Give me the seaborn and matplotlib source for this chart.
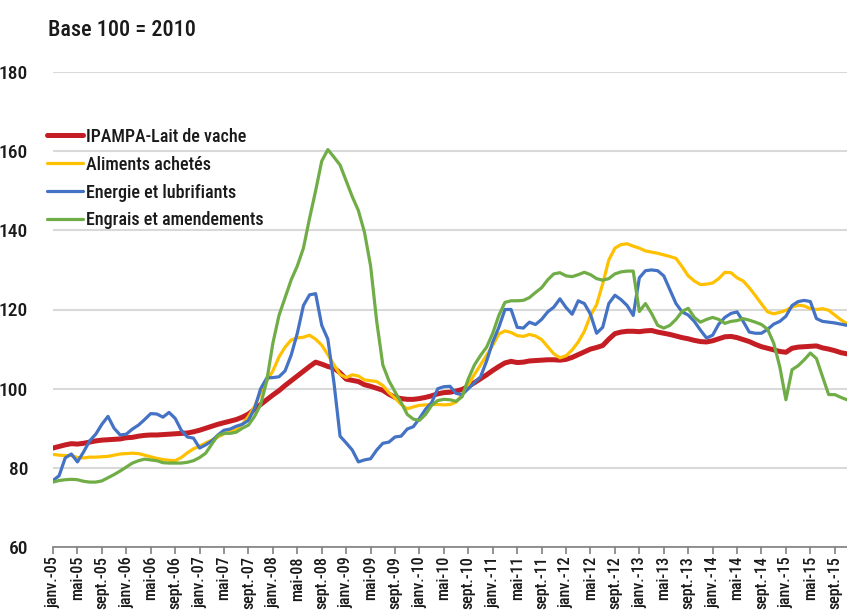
import pandas as pd
import numpy as np
import matplotlib
matplotlib.use("Agg")
import matplotlib.pyplot as plt
import seaborn as sns
from matplotlib import font_manager

# monthly index, janv. 2005 -> nov. 2015 (base 100 = 2010)
lait = [85.0, 85.4, 85.8, 86.1, 86.0, 86.2, 86.5, 86.8, 87.0, 87.1, 87.2, 87.3,
        87.6, 87.7, 88.0, 88.2, 88.3, 88.3, 88.4, 88.5, 88.6, 88.7, 88.8, 89.1,
        89.5, 90.0, 90.5, 91.0, 91.4, 91.8, 92.2, 92.8, 93.6, 94.8, 96.0, 97.2,
        98.4, 99.5, 100.8, 102.0, 103.2, 104.4, 105.6, 106.7, 106.2, 105.6, 105.2, 104.0,
        102.4, 102.1, 101.8, 101.0, 100.6, 100.1, 99.6, 98.6, 97.8, 97.5, 97.3, 97.3,
        97.5, 97.8, 98.2, 98.7, 99.0, 99.1, 99.4, 99.8, 100.6, 101.5, 102.5, 103.5,
        104.6, 105.6, 106.5, 106.9, 106.6, 106.7, 107.0, 107.1, 107.2, 107.3, 107.3, 107.2,
        107.4, 107.9, 108.6, 109.3, 110.0, 110.4, 110.9, 112.5, 113.9, 114.3, 114.5, 114.5,
        114.4, 114.6, 114.7, 114.3, 114.0, 113.7, 113.3, 112.9, 112.6, 112.2, 111.9, 111.8,
        112.1, 112.6, 113.1, 113.2, 112.9, 112.4, 111.9, 111.2, 110.6, 110.2, 109.8, 109.4,
        109.2, 110.2, 110.5, 110.6, 110.7, 110.8, 110.3, 110.0, 109.6, 109.1, 108.8]

aliments = [83.4, 83.2, 83.1, 83.1, 82.6, 82.5, 82.7, 82.7, 82.8, 82.9, 83.2, 83.5,
            83.6, 83.7, 83.6, 83.2, 82.8, 82.4, 82.1, 81.9, 81.8, 82.6, 83.8, 84.8,
            85.5, 86.3, 87.0, 87.8, 88.6, 89.2, 89.8, 91.0, 93.0, 95.5, 99.0, 102.0,
            104.5, 108.0, 110.5, 112.3, 112.8, 113.0, 113.5, 112.5, 111.0, 108.6, 106.0, 103.6,
            102.8, 103.5, 103.2, 102.2, 102.0, 101.8, 100.8, 99.0, 97.6, 96.0, 94.9, 95.4,
            95.8, 95.9, 96.0, 96.0, 95.9, 96.0, 96.6, 98.5, 101.0, 103.6, 106.0, 108.5,
            111.0, 113.8, 114.6, 114.2, 113.4, 113.2, 113.7, 113.3, 112.4, 110.6, 108.8, 107.8,
            108.3, 109.8, 111.8, 114.5, 118.5, 121.2, 126.5, 132.5, 135.5, 136.4, 136.6, 136.0,
            135.5, 134.8, 134.5, 134.2, 133.8, 133.4, 132.9, 130.8, 128.5, 127.2, 126.3, 126.4,
            126.7, 127.8, 129.4, 129.3, 128.0, 127.2, 125.5, 123.5, 121.4, 119.4, 118.9, 119.3,
            119.8, 120.6, 121.1, 120.9, 120.2, 120.0, 120.2, 119.8, 118.6, 117.4, 116.4]

energie = [76.8, 78.0, 82.5, 83.5, 81.5, 84.0, 86.8, 88.5, 91.0, 93.0, 90.0, 88.3,
           88.5, 89.8, 90.8, 92.2, 93.7, 93.6, 92.8, 94.0, 92.5, 89.5, 87.8, 87.5,
           85.0, 85.8, 86.8, 88.3, 89.5, 89.8, 90.5, 91.0, 92.0, 95.0, 100.0, 102.7,
           102.8, 103.0, 104.5, 108.5, 114.0, 121.0, 123.7, 124.0, 116.0, 112.5, 101.5, 88.0,
           86.3, 84.5, 81.5, 82.0, 82.3, 84.5, 86.2, 86.5, 87.8, 88.0, 89.8, 90.4,
           92.5, 94.8, 96.5, 100.0, 100.5, 100.6, 98.8, 98.5, 100.0, 101.5, 103.0, 107.0,
           111.8, 115.5, 120.0, 120.0, 115.5, 115.3, 116.8, 116.2, 117.5, 119.4, 120.6, 122.7,
           120.5, 118.8, 122.2, 121.5, 118.8, 114.0, 115.5, 121.5, 123.6, 122.5, 121.0, 118.5,
           128.0, 129.8, 130.0, 129.8, 128.5, 125.0, 121.5, 119.4, 118.6, 117.0, 114.8, 112.8,
           113.5, 116.3, 118.0, 119.0, 119.4, 117.0, 114.3, 114.0, 114.0, 115.0, 116.3, 117.0,
           118.3, 121.0, 122.0, 122.3, 122.0, 117.7, 117.0, 116.8, 116.6, 116.3, 116.0]

engrais = [76.4, 76.8, 77.0, 77.1, 77.0, 76.6, 76.4, 76.4, 76.7, 77.5, 78.3, 79.2,
           80.2, 81.2, 81.8, 82.2, 82.0, 81.8, 81.3, 81.2, 81.2, 81.2, 81.4, 81.8,
           82.6, 83.7, 86.0, 88.2, 88.7, 88.7, 89.0, 90.0, 90.8, 93.0, 96.0, 102.0,
           111.5, 118.5, 123.0, 127.5, 131.0, 135.5, 143.0, 150.0, 157.5, 160.4, 158.5, 156.5,
           152.5, 148.5, 145.0, 139.5, 131.0, 117.0, 106.0, 102.0, 99.2, 96.5, 93.5, 92.3,
           92.0, 93.5, 95.8, 97.0, 97.3, 97.2, 96.8, 98.0, 102.5, 106.0, 108.4, 110.5,
           114.0, 118.5, 121.8, 122.2, 122.2, 122.3, 123.0, 124.3, 125.5, 127.5, 129.0, 129.3,
           128.5, 128.3, 128.8, 129.4, 128.8, 127.8, 127.4, 127.8, 129.0, 129.5, 129.7, 129.7,
           119.5, 121.5, 119.0, 116.0, 115.3, 116.0, 117.5, 119.5, 120.3, 118.0, 116.8, 117.5,
           118.0, 117.5, 116.5, 117.0, 117.2, 117.7, 117.3, 116.8, 116.2, 115.0, 111.5, 105.5,
           97.2, 104.8, 105.8, 107.3, 109.0, 107.6, 103.0, 98.5, 98.5, 97.8, 97.2]

series_names = ["IPAMPA-Lait de vache", "Aliments achetés",
                "Energie et lubrifiants", "Engrais et amendements"]
mois = ["janv.", "févr.", "mars", "avr.", "mai", "juin",
        "juil.", "août", "sept.", "oct.", "nov.", "déc."]
n = len(lait)
labels = [f"{mois[i % 12]}-{(5 + i // 12):02d}" for i in range(n)]

df = pd.DataFrame({"mois": np.arange(n), series_names[0]: lait,
                   series_names[1]: aliments, series_names[2]: energie,
                   series_names[3]: engrais})
long_df = df.melt(id_vars="mois", var_name="serie", value_name="indice")

sns.set_theme(style="white")
available = {f.name for f in font_manager.fontManager.ttflist}
font = next((f for f in ["Liberation Sans Narrow", "DejaVu Sans Condensed",
                         "Roboto Condensed", "Liberation Sans"] if f in available),
            "DejaVu Sans")
plt.rcParams["font.family"] = [font, "DejaVu Sans"]
plt.rcParams["font.weight"] = "medium"

colors = {series_names[0]: "#c41e24", series_names[1]: "#ffc000",
          series_names[2]: "#4472c4", series_names[3]: "#70ad47"}
widths = {series_names[0]: 3.6, series_names[1]: 2.3,
          series_names[2]: 2.3, series_names[3]: 2.3}

fig = plt.figure(figsize=(8.47, 6.11), dpi=100)
ax = fig.add_axes([53 / 847, 1 - 547 / 611, 1 - 53 / 847, (547 - 72) / 611])

for name in series_names:
    sns.lineplot(data=long_df[long_df["serie"] == name], x="mois", y="indice",
                 color=colors[name], linewidth=widths[name], label=name, ax=ax,
                 zorder=3)

ax.set_xlim(0, n - 1)
ax.set_ylim(60, 180)
ax.set_yticks(range(60, 181, 20))
ax.yaxis.grid(True, color="#d9d9d9", linewidth=1.5, zorder=0)
ax.xaxis.grid(False)
ax.set_xticks(range(0, n, 4))
ax.set_xticklabels([labels[i] for i in range(0, n, 4)], rotation=90,
                   fontsize=11.5, color="#1a1a1a")
ax.tick_params(axis="x", bottom=True, length=5, width=1.2, color="#808080", pad=1.5)
ax.tick_params(axis="y", left=False, labelsize=14, labelcolor="#1a1a1a", pad=12)
for s in ["top", "right", "left"]:
    ax.spines[s].set_visible(False)
ax.spines["bottom"].set_color("#808080")
ax.spines["bottom"].set_linewidth(1.2)
ax.set_xlabel("")
ax.set_ylabel("")

leg = ax.legend(loc="upper left", bbox_to_anchor=(-0.017, 0.898), frameon=False,
                fontsize=13, handlelength=2.0, handletextpad=0.2,
                labelspacing=0.55, borderaxespad=0)
for t in leg.get_texts():
    t.set_color("#1a1a1a")

fig.text(48 / 847, 1 - 36 / 611, "Base 100 = 2010", fontsize=16, color="#1a1a1a")

fig.savefig("out.png", dpi=100)
